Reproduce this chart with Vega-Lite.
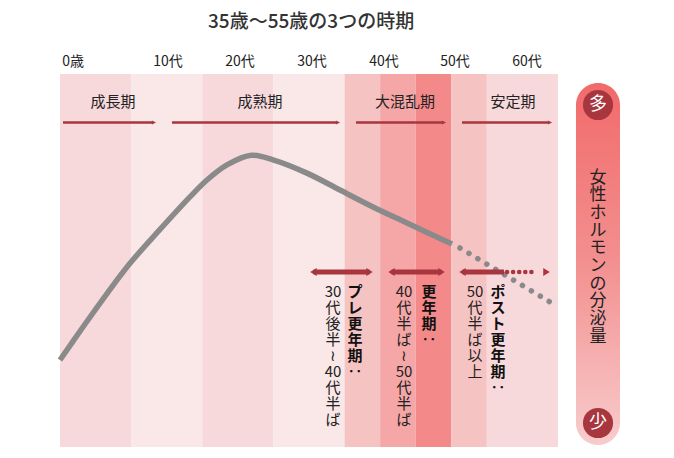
{
  "$schema": "https://vega.github.io/schema/vega-lite/v6.json",
  "width": 674,
  "height": 458,
  "autosize": {"type": "none"},
  "padding": 0,
  "background": "white",
  "config": {"view": {"stroke": null}, "font": "Noto Sans CJK JP"},
  "data": {"values": [{}]},
  "datasets": {
    "bands": [
      {"a": 0, "a2": 10, "tone": "pink"},
      {"a": 10, "a2": 20, "tone": "pale"},
      {"a": 20, "a2": 30, "tone": "pink"},
      {"a": 30, "a2": 40, "tone": "pale"},
      {"a": 40, "a2": 45, "tone": "rose1"},
      {"a": 45, "a2": 50, "tone": "rose2"},
      {"a": 50, "a2": 55, "tone": "rose3"},
      {"a": 55, "a2": 60, "tone": "rose1"},
      {"a": 60, "a2": 70, "tone": "pink"}
    ],
    "curve": [
      {"a": 0, "v": 21.4}, {"a": 3.23, "v": 28.6}, {"a": 6.61, "v": 35.9},
      {"a": 9.84, "v": 42.5}, {"a": 14.06, "v": 49.9}, {"a": 18.27, "v": 57.0},
      {"a": 20.66, "v": 60.7}, {"a": 23.47, "v": 64.0}, {"a": 26.9, "v": 66.1},
      {"a": 29.94, "v": 65.1}, {"a": 34.72, "v": 62.2}, {"a": 39.36, "v": 58.5},
      {"a": 44.0, "v": 54.8}, {"a": 48.78, "v": 51.3}, {"a": 55.1, "v": 46.7}
    ],
    "tail": [{"a": 56.23, "v": 45.85}, {"a": 69.58, "v": 33.41}],
    "topArrows": [
      {"s": 0.42, "e": 12.93, "tip": 13.21},
      {"s": 15.74, "e": 38.8, "tip": 39.08},
      {"s": 41.61, "e": 53.7, "tip": 53.98},
      {"s": 56.51, "e": 68.6, "tip": 68.88}
    ],
    "bottomShafts": [
      {"s": 35.63, "e": 43.51},
      {"s": 46.6, "e": 53.63},
      {"s": 56.58, "e": 62.41}
    ],
    "bottomDots": [{"s": 62.83, "e": 67.05}],
    "leftHeads": [{"a": 35.63}, {"a": 46.6}, {"a": 56.58}],
    "rightHeads": [{"a": 43.51}, {"a": 53.63}, {"a": 68.39}],
    "ages": [
      {"t": "0歳", "a": 1.83}, {"t": "10代", "a": 15.18}, {"t": "20代", "a": 25.3},
      {"t": "30代", "a": 35.42}, {"t": "40代", "a": 45.54}, {"t": "50代", "a": 55.52},
      {"t": "60代", "a": 65.65}
    ],
    "periods": [
      {"t": "成長期", "a": 7.45}, {"t": "成熟期", "a": 28.11},
      {"t": "大混乱期", "a": 48.5}, {"t": "安定期", "a": 63.68}
    ],
    "notes": [
      {"t": "30|代|後|半|≀|40|代|半|ば", "a": 38.37},
      {"t": "40|代|半|ば|≀|50|代|半|ば", "a": 48.36},
      {"t": "50|代|半|ば|以|上", "a": 58.34}
    ],
    "notesBold": [
      {"t": "プ|レ|更|年|期|‥", "a": 41.47},
      {"t": "更|年|期|‥", "a": 51.87},
      {"t": "ポ|ス|ト|更|年|期|‥", "a": 61.57}
    ],
    "ends": [{"t": "多", "v": 77.07}, {"t": "少", "v": 7.64}]
  },
  "layer": [
    {
      "data": {"name": "bands"},
      "mark": {"type": "rect"},
      "encoding": {
        "x": {"field": "a", "type": "quantitative", "scale": {"domain": [-8.434, 86.31], "nice": false, "zero": false}, "axis": null},
        "x2": {"field": "a2"},
        "y": {"datum": 83.84, "type": "quantitative", "scale": {"domain": [0, 100], "nice": false, "zero": false}, "axis": null},
        "y2": {"datum": 2.4},
        "color": {"field": "tone", "type": "nominal", "legend": null,
          "scale": {"domain": ["pink", "pale", "rose1", "rose2", "rose3"],
                    "range": ["#f7d9dc", "#f9e8e7", "#f6c3c3", "#f5a6a7", "#f4898a"]}}
      }
    },
    {
      "mark": {"type": "rect", "cornerRadius": 22,
        "color": {"gradient": "linear", "x1": 0, "y1": 0, "x2": 0, "y2": 1,
          "stops": [{"offset": 0, "color": "#f26a6a"}, {"offset": 0.5, "color": "#f39090"}, {"offset": 1, "color": "#f8cccc"}]}},
      "encoding": {
        "x": {"datum": 72.53, "type": "quantitative", "scale": {"domain": [-8.434, 86.31], "nice": false, "zero": false}, "axis": null},
        "x2": {"datum": 78.72},
        "y": {"datum": 81.88, "type": "quantitative", "scale": {"domain": [0, 100], "nice": false, "zero": false}, "axis": null},
        "y2": {"datum": 2.84}
      }
    },
    {
      "data": {"name": "curve"},
      "mark": {"type": "line", "interpolate": "catmull-rom", "color": "#8a8a8a", "strokeWidth": 5.5, "strokeCap": "butt"},
      "encoding": {
        "x": {"field": "a", "type": "quantitative", "scale": {"domain": [-8.434, 86.31], "nice": false, "zero": false}, "axis": null},
        "y": {"field": "v", "type": "quantitative", "scale": {"domain": [0, 100], "nice": false, "zero": false}, "axis": null}
      }
    },
    {
      "data": {"name": "tail"},
      "mark": {"type": "line", "color": "#8a8a8a", "strokeWidth": 5.5, "strokeCap": "round", "strokeDash": [0.1, 10.3]},
      "encoding": {
        "x": {"field": "a", "type": "quantitative", "scale": {"domain": [-8.434, 86.31], "nice": false, "zero": false}, "axis": null},
        "y": {"field": "v", "type": "quantitative", "scale": {"domain": [0, 100], "nice": false, "zero": false}, "axis": null}
      }
    },
    {
      "data": {"name": "topArrows"},
      "mark": {"type": "rule", "color": "#a8363e", "strokeWidth": 2.5},
      "encoding": {
        "x": {"field": "s", "type": "quantitative", "scale": {"domain": [-8.434, 86.31], "nice": false, "zero": false}, "axis": null},
        "x2": {"field": "e"},
        "y": {"datum": 73.25, "type": "quantitative", "scale": {"domain": [0, 100], "nice": false, "zero": false}, "axis": null}
      }
    },
    {
      "data": {"name": "topArrows"},
      "mark": {"type": "point", "shape": "M-0.5,-0.5L0.5,0L-0.5,0.5Z", "filled": true, "opacity": 1, "color": "#a8363e", "size": 70, "strokeWidth": 0},
      "encoding": {
        "x": {"field": "tip", "type": "quantitative", "scale": {"domain": [-8.434, 86.31], "nice": false, "zero": false}, "axis": null},
        "y": {"datum": 73.25, "type": "quantitative", "scale": {"domain": [0, 100], "nice": false, "zero": false}, "axis": null}
      }
    },
    {
      "data": {"name": "bottomShafts"},
      "mark": {"type": "rule", "color": "#a8363e", "strokeWidth": 5},
      "encoding": {
        "x": {"field": "s", "type": "quantitative", "scale": {"domain": [-8.434, 86.31], "nice": false, "zero": false}, "axis": null},
        "x2": {"field": "e"},
        "y": {"datum": 40.61, "type": "quantitative", "scale": {"domain": [0, 100], "nice": false, "zero": false}, "axis": null}
      }
    },
    {
      "data": {"name": "bottomDots"},
      "mark": {"type": "rule", "color": "#a8363e", "strokeWidth": 4.5, "strokeCap": "round", "strokeDash": [0.1, 6]},
      "encoding": {
        "x": {"field": "s", "type": "quantitative", "scale": {"domain": [-8.434, 86.31], "nice": false, "zero": false}, "axis": null},
        "x2": {"field": "e"},
        "y": {"datum": 40.61, "type": "quantitative", "scale": {"domain": [0, 100], "nice": false, "zero": false}, "axis": null}
      }
    },
    {
      "data": {"name": "leftHeads"},
      "mark": {"type": "point", "shape": "M0.5,-0.6L-0.5,0L0.5,0.6Z", "filled": true, "opacity": 1, "color": "#a8363e", "size": 169, "strokeWidth": 0},
      "encoding": {
        "x": {"field": "a", "type": "quantitative", "scale": {"domain": [-8.434, 86.31], "nice": false, "zero": false}, "axis": null},
        "y": {"datum": 40.61, "type": "quantitative", "scale": {"domain": [0, 100], "nice": false, "zero": false}, "axis": null}
      }
    },
    {
      "data": {"name": "rightHeads"},
      "mark": {"type": "point", "shape": "M-0.5,-0.6L0.5,0L-0.5,0.6Z", "filled": true, "opacity": 1, "color": "#a8363e", "size": 169, "strokeWidth": 0},
      "encoding": {
        "x": {"field": "a", "type": "quantitative", "scale": {"domain": [-8.434, 86.31], "nice": false, "zero": false}, "axis": null},
        "y": {"datum": 40.61, "type": "quantitative", "scale": {"domain": [0, 100], "nice": false, "zero": false}, "axis": null}
      }
    },
    {
      "mark": {"type": "text", "fontSize": 19, "fontWeight": 500, "color": "#333333", "align": "center", "baseline": "middle"},
      "encoding": {
        "x": {"datum": 35.3, "type": "quantitative", "scale": {"domain": [-8.434, 86.31], "nice": false, "zero": false}, "axis": null},
        "y": {"datum": 95.2, "type": "quantitative", "scale": {"domain": [0, 100], "nice": false, "zero": false}, "axis": null},
        "text": {"value": "35歳～55歳の3つの時期"}
      }
    },
    {
      "data": {"name": "ages"},
      "mark": {"type": "text", "fontSize": 14, "color": "#222222", "align": "center", "baseline": "middle"},
      "encoding": {
        "x": {"field": "a", "type": "quantitative", "scale": {"domain": [-8.434, 86.31], "nice": false, "zero": false}, "axis": null},
        "y": {"datum": 86.46, "type": "quantitative", "scale": {"domain": [0, 100], "nice": false, "zero": false}, "axis": null},
        "text": {"field": "t", "type": "nominal"}
      }
    },
    {
      "data": {"name": "periods"},
      "mark": {"type": "text", "fontSize": 15, "color": "#222222", "align": "center", "baseline": "middle"},
      "encoding": {
        "x": {"field": "a", "type": "quantitative", "scale": {"domain": [-8.434, 86.31], "nice": false, "zero": false}, "axis": null},
        "y": {"datum": 77.73, "type": "quantitative", "scale": {"domain": [0, 100], "nice": false, "zero": false}, "axis": null},
        "text": {"field": "t", "type": "nominal"}
      }
    },
    {
      "data": {"name": "notes"},
      "mark": {"type": "text", "fontSize": 15, "color": "#222222", "align": "center", "baseline": "top", "lineBreak": "|", "lineHeight": 16},
      "encoding": {
        "x": {"field": "a", "type": "quantitative", "scale": {"domain": [-8.434, 86.31], "nice": false, "zero": false}, "axis": null},
        "y": {"datum": 37.77, "type": "quantitative", "scale": {"domain": [0, 100], "nice": false, "zero": false}, "axis": null},
        "text": {"field": "t", "type": "nominal"}
      }
    },
    {
      "data": {"name": "notesBold"},
      "mark": {"type": "text", "fontSize": 15, "fontWeight": "bold", "color": "#111111", "align": "center", "baseline": "top", "lineBreak": "|", "lineHeight": 16},
      "encoding": {
        "x": {"field": "a", "type": "quantitative", "scale": {"domain": [-8.434, 86.31], "nice": false, "zero": false}, "axis": null},
        "y": {"datum": 37.77, "type": "quantitative", "scale": {"domain": [0, 100], "nice": false, "zero": false}, "axis": null},
        "text": {"field": "t", "type": "nominal"}
      }
    },
    {
      "mark": {"type": "text", "fontSize": 17, "color": "#222222", "align": "center", "baseline": "top", "lineBreak": "|", "lineHeight": 17.7},
      "encoding": {
        "x": {"datum": 75.63, "type": "quantitative", "scale": {"domain": [-8.434, 86.31], "nice": false, "zero": false}, "axis": null},
        "y": {"datum": 62.99, "type": "quantitative", "scale": {"domain": [0, 100], "nice": false, "zero": false}, "axis": null},
        "text": {"value": "女|性|ホ|ル|モ|ン|の|分|泌|量"}
      }
    },
    {
      "data": {"name": "ends"},
      "mark": {"type": "point", "shape": "circle", "filled": true, "opacity": 1, "color": "#a8363e", "size": 908, "strokeWidth": 0},
      "encoding": {
        "x": {"datum": 75.63, "type": "quantitative", "scale": {"domain": [-8.434, 86.31], "nice": false, "zero": false}, "axis": null},
        "y": {"field": "v", "type": "quantitative", "scale": {"domain": [0, 100], "nice": false, "zero": false}, "axis": null}
      }
    },
    {
      "data": {"name": "ends"},
      "mark": {"type": "text", "fontSize": 18, "color": "white", "align": "center", "baseline": "middle"},
      "encoding": {
        "x": {"datum": 75.63, "type": "quantitative", "scale": {"domain": [-8.434, 86.31], "nice": false, "zero": false}, "axis": null},
        "y": {"field": "v", "type": "quantitative", "scale": {"domain": [0, 100], "nice": false, "zero": false}, "axis": null},
        "text": {"field": "t", "type": "nominal"}
      }
    }
  ]
}
